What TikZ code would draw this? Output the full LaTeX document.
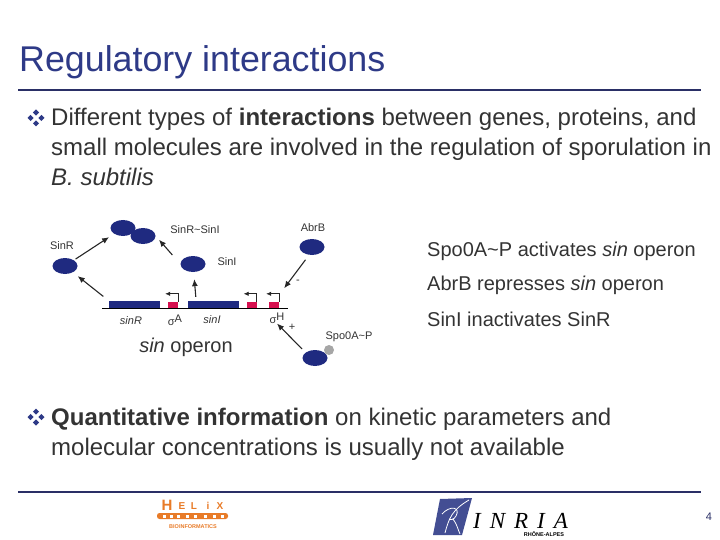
\documentclass[tikz,border=0pt]{standalone}
\usepackage{fontspec}
\setmainfont{Liberation Sans}
\newfontfamily\serifit{Liberation Serif}
\usetikzlibrary{positioning}
\usetikzlibrary{shapes.geometric}
\usetikzlibrary{arrows.meta}

\definecolor{titleblue}{HTML}{2E3A87}
\definecolor{rulenavy}{HTML}{2A2F66}
\definecolor{bodygrey}{HTML}{333333}
\definecolor{genenavy}{HTML}{1F2A80}
\definecolor{promred}{HTML}{D6104F}
\definecolor{helixorange}{HTML}{E87B28}

\tikzset{
  txt/.style={inner sep=0pt, anchor=base west, text=bodygrey},
  body/.style={txt, font=\fontsize{24}{24}\selectfont},
  side/.style={txt, font=\fontsize{20}{20}\selectfont},
  small/.style={inner sep=0pt, text=bodygrey, font=\fontsize{11}{11}\selectfont},
  protein/.style={ellipse, fill=genenavy, inner sep=0pt, minimum width=25pt, minimum height=16pt},
  genebox/.style={rectangle, fill=genenavy, inner sep=0pt, minimum width=51pt, minimum height=7pt},
  promoter/.style={rectangle, fill=promred, inner sep=0pt, minimum width=10pt, minimum height=6pt},
  arr/.style={-{Latex[length=7pt,width=6pt]}, line width=1.1pt, black!85},
  bent/.style={-{Latex[length=5pt,width=4.5pt]}, line width=0.7pt, black!85},
  rulebar/.style={rulenavy, line width=1.6pt}
}

\newcommand{\slidebullet}[2]{% four small diamonds
  \foreach \dx/\dy in {0/-5.4, 0/5.4, -5.4/0, 5.4/0}
    \fill[titleblue] (#1+\dx,#2+\dy+3.1) -- ++(3.1,-3.1) -- ++(-3.1,-3.1) -- ++(-3.1,3.1) -- cycle;
}

\begin{document}
\begin{tikzpicture}[x=1pt,y=-1pt]

\useasboundingbox (0,0) rectangle (720,540);

% titolo
\node[txt, text=titleblue, font=\fontsize{35.8}{36}\selectfont] (title) at (19,72) {Regulatory interactions};
\draw[rulebar] (18,90) -- (701,90);

% testo sopra
\slidebullet{36}{118}
\node[body] (lineA) at (51,126) {Different types of \textbf{interactions} between genes, proteins, and};
\node[body] (lineB) at (51,156) {small molecules are involved in the regulation of sporulation in};
\node[body] (lineC) at (51,186) {\textit{B. subtilis}};

% proteine
\node[protein] (cplxA) at (123,228) {};
\node[protein] (cplxB) at (143,236) {};
\node[protein] (SinR) at (65,266) {};
\node[protein] (SinI) at (193,264) {};
\node[protein] (AbrB) at (312,247) {};
\node[protein] (Spo) at (315,358) {};
\node[circle, fill=black!35, inner sep=0pt, minimum size=10pt] (phos) at (329,350) {};

% geni
\draw[line width=0.6pt] (102,308) -- (288,308); % linea DNA
\node[genebox] (geneR) at (134.5,304.5) {};
\node[genebox] (geneI) at (213.5,304.5) {};
\node[promoter] (promA) at (173,305) {};
\node[promoter] (promB) at (251.5,305) {};
\node[promoter] (promH) at (274,305) {};

% frecce promotori
\draw[bent] (promA.north east) |- ++(-13,-8);
\draw[bent] (promB.north east) |- ++(-13,-8);
\draw[bent] (promH.north east) |- ++(-13,-8);

% label
\node[small] (lblCplx) at (195,230) {SinR\textasciitilde SinI};
\node[small] (lblAbrB) at (313,228) {AbrB};
\node[small] (lblSinR) at (62,246) {SinR};
\node[small] (lblSinI) at (227,262) {SinI};
\node[small] (lblGeneR) at (131,321) {\textit{sinR}};
\node[small] (lblSigA) at (175,320) {σ\raisebox{3pt}{A}};
\node[small] (lblGeneI) at (212,320) {\textit{sinI}};
\node[small] (lblSigH) at (277,318) {σ\raisebox{3pt}{H}};
\node[small] (lblMinus) at (298,282) {-};
\node[small] (lblPlus) at (292,327) {+};
\node[small] (lblSpo) at (349,337) {Spo0A\textasciitilde P};
\node[inner sep=0pt, text=bodygrey, font=\fontsize{20}{20}\selectfont] (lblOperon) at (186,347) {\textit{sin} operon};

% frecce
\draw[arr, shorten <=7pt, shorten >=6pt] (geneR.north west) -- (SinR);
\draw[arr, shorten <=2pt, shorten >=6pt] (SinR) -- (cplxA);
\draw[arr, shorten <=12pt, shorten >=5pt] (SinI.west) -- (cplxB.east);
\draw[arr, shorten >=7pt] (geneI.north west) ++(8,-4) -- (SinI);
\draw[arr, shorten <=6pt, shorten >=17pt] (AbrB.250) -- (promH.north);
\draw[arr, shorten <=5pt] (Spo.150) -- (lblSigH.south);

% testo a destra
\node[side] (sideA) at (427,256) {Spo0A\textasciitilde P activates \textit{sin} operon};
\node[side] (sideB) at (427,290) {AbrB represses \textit{sin} operon};
\node[side] (sideC) at (427,326) {SinI inactivates SinR};

% testo sotto
\slidebullet{36}{417}
\node[body] (lineD) at (51,425) {\textbf{Quantitative information} on kinetic parameters and};
\node[body] (lineE) at (51,455) {molecular concentrations is usually not available};
\draw[rulebar] (18,492) -- (701,492);

% logo helix
\node[inner sep=0pt, text=helixorange, font=\fontsize{15}{15}\selectfont\bfseries] (helixH) at (167,505) {H};
\foreach \px/\letter in {182/E, 194/L, 208/i, 220/X}
  \node[inner sep=0pt, text=helixorange, font=\fontsize{10}{10}\selectfont\bfseries] at (\px,506) {\letter};
\fill[helixorange, rounded corners=2.5pt] (157,513) rectangle (228,519);
\foreach \px in {163,170,177,186,194,204,213,221}
  \fill[white] (\px,514.5) rectangle +(3,3);
\node[inner sep=0pt, text=helixorange, font=\fontsize{5.5}{5.5}\selectfont\bfseries] (helixB) at (193,527) {BIOINFORMATICS};

% logo inria
\fill[titleblue!90] (440,499) -- (472,498) -- (462,535) -- (433,535) -- cycle;
\draw[white, line width=0.8pt] (445,533) .. controls (449,518) and (452,510) .. (469,500);
\draw[white, line width=0.8pt] (442,514) .. controls (450,505) and (461,507) .. (456,516) .. controls (454,520) and (450,520) .. (449,519);
\draw[white, line width=0.8pt] (453,519) .. controls (457,524) and (458,530) .. (460,534);
\node[txt, text=black, font=\serifit\itshape\fontsize{23}{23}\selectfont] (inria) at (473,528) {I\hspace{9pt}N\hspace{9pt}R\hspace{9pt}I\hspace{9pt}A};
\node[inner sep=0pt, text=black, font=\fontsize{5.5}{5.5}\selectfont\bfseries] (rhone) at (544,534) {RHÔNE-ALPES};

\node[small, text=rulenavy] (pagenum) at (709,517) {4};

\end{tikzpicture}
\end{document}
